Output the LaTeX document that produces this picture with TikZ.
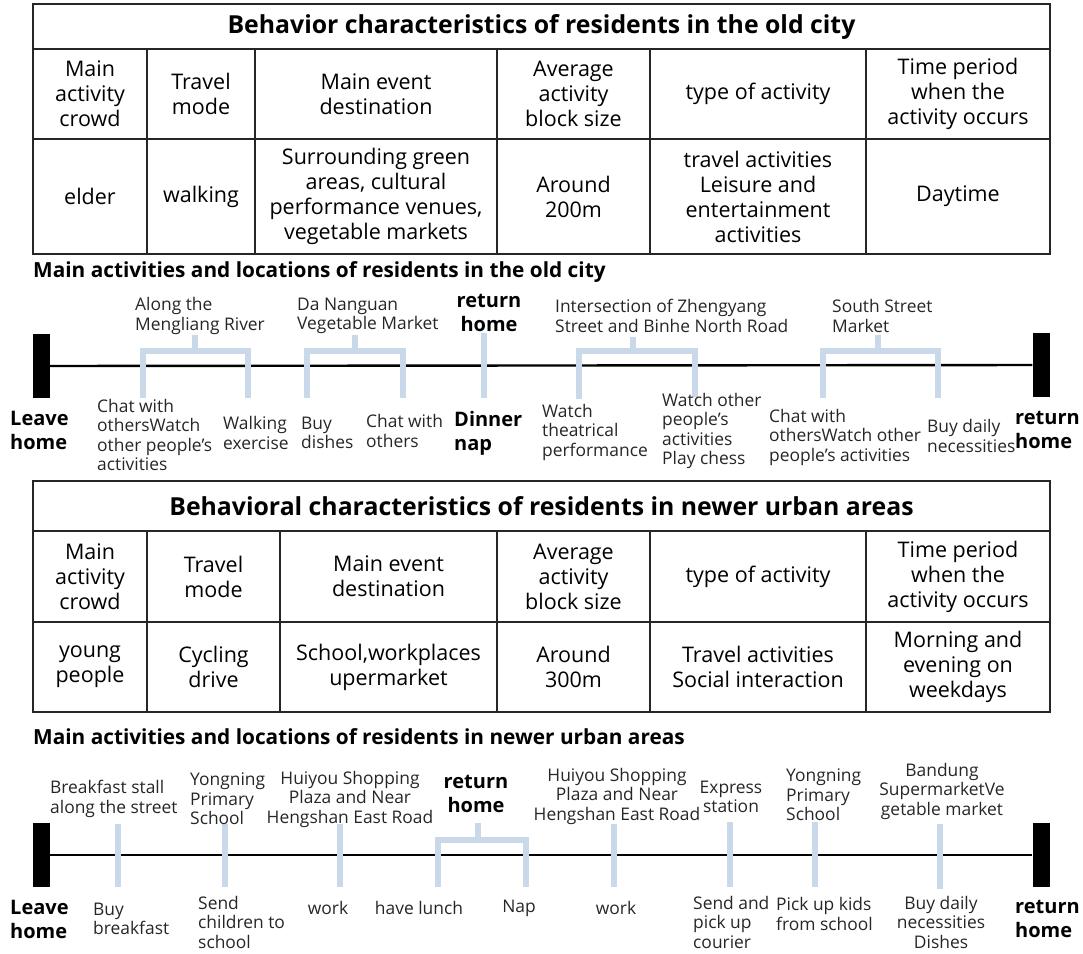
\documentclass[tikz,border=0pt]{standalone}
\usepackage{fontspec}
\setmainfont{Open Sans}
\usepackage{tikz}
\usetikzlibrary{positioning,calc}
\definecolor{barblue}{RGB}{201,217,234}
\newcommand{\tabfont}{\fontsize{21.5}{25}\selectfont}
\newcommand{\labfont}{\fontsize{17.4}{19.5}\selectfont}
\newcommand{\homefont}{\fontsize{20}{24}\selectfont\bfseries}
\newcommand{\titfont}{\fontsize{24.8}{28}\selectfont\bfseries}
\newcommand{\hdfont}{\fontsize{20.8}{22}\selectfont\bfseries}

\begin{document}
\begin{tikzpicture}[x=1pt,y=-1pt,
    grid/.style={draw=black!85,line width=1.6pt},
    cell/.style={align=center,font=\tabfont,inner sep=0pt},
    titl/.style={font=\titfont,inner sep=0pt},
    head/.style={font=\hdfont,inner sep=0pt,anchor=west},
    lab/.style={font=\labfont,align=left,inner sep=0pt,anchor=west,text=black!85},
    labc/.style={font=\labfont,align=center,inner sep=0pt,text=black!85},
    home/.style={font=\homefont,align=left,inner sep=0pt,anchor=west},
    endbar/.style={fill=black,draw=none,minimum width=17pt,minimum height=64pt,inner sep=0pt},
    line/.style={draw=black,line width=2.4pt},
    bar/.style={draw=barblue,line width=6.5pt}]
\useasboundingbox (0,0) rectangle (1083,953);
%
% table of the old city
\draw[grid] (33,4) rectangle (1050,254);
\draw[grid] (33,49) -- (1050,49) (33,139) -- (1050,139);
\draw[grid] (147,49) -- (147,254) (255,49) -- (255,254) (497,49) -- (497,254)
            (650,49) -- (650,254) (866,49) -- (866,254);
\node[titl] (T1) at (541.5,27) {Behavior characteristics of residents in the old city};
\node[cell] (A1) at (90,94)    {Main\\activity\\crowd};
\node[cell] (B1) at (201,94)   {Travel\\mode};
\node[cell] (C1) at (376,94)   {Main event\\destination};
\node[cell] (D1) at (573.5,94) {Average\\activity\\block size};
\node[cell] (E1) at (758,94)   {type of activity};
\node[cell] (F1) at (958,94)   {Time period\\when the\\activity occurs};
\node[cell] (A2) at (90,196.5)    {elder};
\node[cell] (B2) at (201,196.5)   {walking};
\node[cell] (C2) at (376,196.5)   {Surrounding green\\areas, cultural\\performance venues,\\vegetable markets};
\node[cell] (D2) at (573.5,196.5) {Around\\200m};
\node[cell] (E2) at (758,196.5)   {travel activities\\Leisure and\\entertainment\\activities};
\node[cell] (F2) at (958,196.5)   {Daytime};
%
% timeline of the old city
\node[head] (H1) at (33,272) {Main activities and locations of residents in the old city};
\node[endbar] (L1) at (41.5,366) {};
\node[endbar] (R1) at (1041,365) {};
\draw[line] (L1) -- (R1);
\draw[bar] (195,335) -- (195,351) (143,398) |- (248,351) -- (248,398);
\draw[bar] (355,335) -- (355,351) (307,398) |- (403,351) -- (403,398);
\draw[bar] (484,333) -- (484,398);
\draw[bar] (633,337) -- (633,351) (579,399) |- (695,351) -- (695,397);
\draw[bar] (878,335) -- (878,351) (823,398) |- (938,351) -- (938,398);
\node[lab] (U1) at (135,316) {Along the\\Mengliang River};
\node[lab] (U2) at (297,316) {Da Nanguan\\Vegetable Market};
\node[home,anchor=center,align=center] (U3) at (489,313) {return\\home};
\node[lab] (U4) at (555,316) {Intersection of Zhengyang\\Street and Binhe North Road};
\node[lab] (U5) at (832,316) {South Street\\Market};
\node[home] (S1) at (10,430) {Leave\\home};
\node[lab] (D1a) at (97,435)  {Chat with\\othersWatch\\other people's\\activities};
\node[lab] (D1b) at (223,433) {Walking\\exercise};
\node[lab] (D2a) at (301,433) {Buy\\dishes};
\node[lab] (D2b) at (366,431) {Chat with\\others};
\node[home] (D3) at (454,433) {Dinner\\nap};
\node[lab] (D4a) at (542,432) {Watch\\theatrical\\performance};
\node[lab] (D4b) at (662,431) {Watch other\\people's\\activities\\Play chess};
\node[lab] (D5a) at (769,437) {Chat with\\othersWatch other\\people's activities};
\node[lab] (D5b) at (927,436) {Buy daily\\necessities};
\node[home] (E1r) at (1015,430) {return\\home};
%
% table of the newer urban areas
\draw[grid] (33,481) rectangle (1050,712);
\draw[grid] (33,531) -- (1050,531) (33,622) -- (1050,622);
\draw[grid] (147,531) -- (147,712) (280,531) -- (280,712) (497,531) -- (497,712)
            (650,531) -- (650,712) (866,531) -- (866,712);
\node[titl] (T2) at (541.5,506) {Behavioral characteristics of residents in newer urban areas};
\node[cell] (G1) at (90,576.5)    {Main\\activity\\crowd};
\node[cell] (H1c) at (213.5,576.5) {Travel\\mode};
\node[cell] (I1) at (388.5,576.5) {Main event\\destination};
\node[cell] (J1) at (573.5,576.5) {Average\\activity\\block size};
\node[cell] (K1) at (758,576.5)   {type of activity};
\node[cell] (M1) at (958,576.5)   {Time period\\when the\\activity occurs};
\node[cell] (G2) at (90,667)      {young\\people};
\node[cell] (H2) at (213.5,667)   {Cycling\\drive};
\node[cell] (I2) at (388.5,667)   {School,workplaces\\upermarket};
\node[cell] (J2) at (573.5,667)   {Around\\300m};
\node[cell] (K2) at (758,667)     {Travel activities\\Social interaction};
\node[cell] (M2) at (958,667)     {Morning and\\evening on\\weekdays};
%
% timeline of the newer urban areas
\node[head] (H2h) at (33,737) {Main activities and locations of residents in newer urban areas};
\node[endbar] (L2) at (41.5,855) {};
\node[endbar] (R2) at (1041,855) {};
\draw[line] (L2) -- (R2);
\draw[bar] (118,824) -- (118,887);
\draw[bar] (225,824) -- (225,887);
\draw[bar] (340,824) -- (340,887);
\draw[bar] (478,823) -- (478,840) (438,887) |- (526,840) -- (526,887);
\draw[bar] (614,824) -- (614,887);
\draw[bar] (730,822) -- (730,887);
\draw[bar] (815,822) -- (815,887);
\draw[bar] (940,824) -- (940,889);
\node[lab] (V1) at (50,799)   {Breakfast stall\\along the street};
\node[lab] (V2) at (190,799)  {Yongning\\Primary\\School};
\node[labc] (V3) at (350,799) {Huiyou Shopping\\Plaza and Near\\Hengshan East Road};
\node[home,anchor=center,align=center] (V4) at (476,794) {return\\home};
\node[labc] (V5) at (617,796) {Huiyou Shopping\\Plaza and Near\\Hengshan East Road};
\node[labc] (V6) at (731,797) {Express\\station};
\node[lab] (V7) at (786,795)  {Yongning\\Primary\\School};
\node[labc] (V8) at (942,791) {Bandung\\SupermarketVe\\getable market};
\node[home] (S2) at (10,919) {Leave\\home};
\node[lab] (W1) at (93,919)   {Buy\\breakfast};
\node[lab] (W2) at (198,922)  {Send\\children to\\school};
\node[labc] (W3) at (328,908) {work};
\node[labc] (W4a) at (419,908) {have lunch};
\node[labc] (W4b) at (519,908) {Nap};
\node[labc] (W5) at (616,908) {work};
\node[lab] (W6) at (693,922)  {Send and\\pick up\\courier};
\node[lab] (W7) at (776,914)  {Pick up kids\\from school};
\node[labc] (W8) at (941,922) {Buy daily\\necessities\\Dishes};
\node[home] (E2r) at (1015,919) {return\\home};
\end{tikzpicture}
\end{document}
